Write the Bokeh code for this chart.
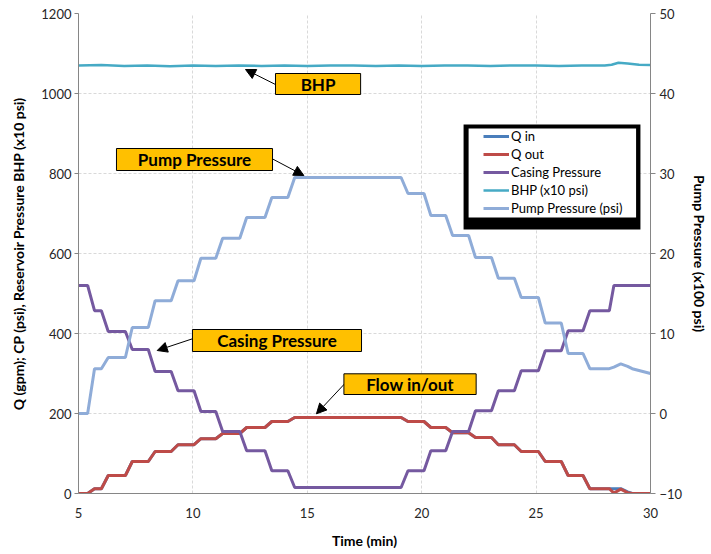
from bokeh.plotting import figure
from bokeh.models import (Range1d, LinearAxis, FixedTicker, Legend, LegendItem,
                          BoxAnnotation, Label, Arrow, NormalHead)
from bokeh.embed import file_html
from bokeh.resources import INLINE

# ---- data ----
time_min = [5.0, 5.4, 5.7, 6.0, 6.3, 7.05, 7.35, 8.05, 8.35, 9.05, 9.35, 10.05, 10.35,
            11.0, 11.3, 12.05, 12.35, 13.15, 13.45, 14.15, 14.45, 19.1, 19.4, 20.1,
            20.4, 21.05, 21.35, 22.05, 22.35, 23.05, 23.35, 24.05, 24.35, 25.1, 25.4,
            26.1, 26.4, 27.05, 27.35, 28.2, 28.4, 28.7, 29.0, 29.2, 30.0]

q_in = [0, 0, 12, 12, 45, 45, 80, 80, 105, 105, 122, 122, 137, 137, 150, 150, 165,
        165, 180, 180, 190, 190, 180, 180, 165, 165, 152, 152, 140, 140, 122, 122,
        105, 105, 80, 80, 45, 45, 12, 12, 12, 12, 4, 0, 0]

q_out = [0, 0, 12, 12, 45, 45, 80, 80, 105, 105, 122, 122, 137, 137, 150, 150, 165,
         165, 180, 180, 190, 190, 180, 180, 165, 165, 152, 152, 140, 140, 122, 122,
         105, 105, 80, 80, 45, 45, 12, 12, 1, 11, 2, 0, 0]

casing_pressure = [520, 520, 457, 457, 405, 405, 360, 360, 305, 305, 257, 257, 205,
                   205, 155, 155, 107, 107, 57, 57, 15, 15, 57, 57, 107, 107, 155,
                   155, 207, 207, 257, 257, 307, 307, 357, 357, 407, 407, 457, 457,
                   520, 520, 520, 520, 520]

pump_pressure = [0, 0, 5.6, 5.6, 7.0, 7.0, 10.75, 10.75, 14.1, 14.1, 16.6, 16.6,
                 19.4, 19.4, 21.9, 21.9, 24.5, 24.5, 27.0, 27.0, 29.5, 29.5, 27.5,
                 27.5, 24.75, 24.75, 22.25, 22.25, 19.5, 19.5, 16.9, 16.9, 14.5,
                 14.5, 11.3, 11.3, 7.5, 7.5, 5.6, 5.6, 5.8, 6.2, 5.9, 5.6, 5.0]

bhp_time = [5, 6, 7, 8, 9, 10, 11, 12, 13, 14, 15, 16, 17, 18, 19, 20, 21, 22, 23,
            24, 25, 26, 27, 28, 28.3, 28.6, 29.0, 29.5, 30]
bhp = [1070, 1071, 1069, 1070, 1068, 1070, 1069, 1070, 1069, 1070, 1069, 1070, 1070,
       1069, 1070, 1069, 1070, 1070, 1069, 1070, 1070, 1069, 1070, 1070, 1072, 1077,
       1075, 1072, 1071]

x_ticks = [5, 10, 15, 20, 25, 30]
left_ticks = [0, 200, 400, 600, 800, 1000, 1200]
right_ticks = [-10, 0, 10, 20, 30, 40, 50]

FONT = "Lato"
C_QIN = "#4A7EBB"
C_QOUT = "#BE4B48"
C_CP = "#7559A0"
C_BHP = "#46AAC5"
C_PUMP = "#8FACD8"

p = figure(width=711, height=554, x_range=Range1d(5, 30), y_range=Range1d(0, 1200),
           output_backend="svg", toolbar_location=None,
           min_border_left=78, min_border_right=61, min_border_top=13,
           min_border_bottom=61)
p.extra_y_ranges = {"pump": Range1d(-10, 50)}
p.outline_line_color = None
p.background_fill_color = "white"
p.border_fill_color = "white"

# axes
for ax in (p.xaxis[0], p.yaxis[0]):
    ax.axis_line_color = "#868686"
    ax.major_tick_line_color = "#868686"
    ax.minor_tick_line_color = None
    ax.major_label_text_font = FONT
    ax.major_label_text_font_size = "13px"
    ax.major_label_text_color = "#262626"
    ax.axis_label_text_font = FONT
    ax.axis_label_text_font_size = "14px"
    ax.axis_label_text_font_style = "bold"
    ax.axis_label_text_color = "black"

p.xaxis.ticker = FixedTicker(ticks=x_ticks)
p.xaxis.major_tick_out = 0
p.xaxis.major_tick_in = 0
p.xaxis.major_label_standoff = 14
p.xaxis.axis_label = "Time (min)"
p.xaxis.axis_label_standoff = 11

p.yaxis.ticker = FixedTicker(ticks=left_ticks)
p.yaxis.major_tick_out = 4
p.yaxis.major_tick_in = 0
p.yaxis.major_label_standoff = 3
p.yaxis.axis_label = "Q (gpm); CP (psi), Reservoir Pressure BHP (x10 psi)"
p.yaxis.axis_label_standoff = 11

right = LinearAxis(y_range_name="pump", ticker=FixedTicker(ticks=right_ticks),
                   axis_label="Pump Pressure (x100 psi)")
right.axis_line_color = "#868686"
right.major_tick_line_color = "#868686"
right.minor_tick_line_color = None
right.major_tick_out = 5
right.major_tick_in = 0
right.major_label_standoff = 4
right.major_label_text_font = FONT
right.major_label_text_font_size = "13px"
right.major_label_text_color = "#262626"
right.axis_label_text_font = FONT
right.axis_label_text_font_size = "14px"
right.axis_label_text_font_style = "bold"
right.axis_label_text_color = "black"
right.axis_label_standoff = 6
p.add_layout(right, "right")

# grids
p.xgrid.ticker = FixedTicker(ticks=[10, 15, 20, 25])
p.ygrid.ticker = FixedTicker(ticks=[200, 400, 600, 800, 1000])
for g in (p.xgrid[0], p.ygrid[0]):
    g.grid_line_color = "#D9D9D9"
    g.grid_line_dash = "3 2"
    g.grid_line_width = 1

# series
r_qin = p.line(time_min, q_in, line_color=C_QIN, line_width=3)
r_qout = p.line(time_min, q_out, line_color=C_QOUT, line_width=3)
r_cp = p.line(time_min, casing_pressure, line_color=C_CP, line_width=3)
r_bhp = p.line(bhp_time, bhp, line_color=C_BHP, line_width=2.5)
r_pump = p.line(time_min, pump_pressure, line_color=C_PUMP, line_width=3,
                y_range_name="pump")

# legend frame (thick black border, heavier at the bottom)
p.add_layout(BoxAnnotation(left=21.83, right=29.56, top=922.5, bottom=660,
                           fill_color="black", fill_alpha=1, line_color=None))
p.add_layout(BoxAnnotation(left=22.05, right=29.37, top=912.5, bottom=690,
                           fill_color="white", fill_alpha=1, line_color=None))

legend = Legend(items=[
    LegendItem(label="Q in", renderers=[r_qin]),
    LegendItem(label="Q out", renderers=[r_qout]),
    LegendItem(label="Casing Pressure", renderers=[r_cp]),
    LegendItem(label="BHP (x10 psi)", renderers=[r_bhp]),
    LegendItem(label="Pump Pressure (psi)", renderers=[r_pump]),
], location=(405, 277))
legend.background_fill_alpha = 0
legend.border_line_color = None
legend.padding = 0
legend.margin = 0
legend.spacing = 2
legend.glyph_width = 26
legend.glyph_height = 16
legend.label_height = 16
legend.label_standoff = 2
legend.label_text_font = FONT
legend.label_text_font_size = "13px"
legend.label_text_color = "black"
p.add_layout(legend)

# callout boxes with arrows
callouts = [
    # (text, left, right, top, bottom, tail_x, tail_y, tip_x, tip_y)
    ("BHP", 13.61, 17.33, 1050, 997.5, 13.61, 1022.5, 12.30, 1060),
    ("Pump Pressure", 6.66, 13.48, 862.5, 807.5, 13.47, 836.75, 14.85, 795),
    ("Casing Pressure", 9.98, 17.37, 410, 355, 9.98, 386.75, 8.44, 357.5),
    ("Flow in/out", 16.60, 22.38, 299.25, 247.5, 16.63, 274.25, 15.40, 199.25),
]
for text, l, r, t, b, tx, ty, hx, hy in callouts:
    p.add_layout(Arrow(x_start=tx, y_start=ty, x_end=hx, y_end=hy,
                       line_color="black", line_width=1,
                       end=NormalHead(size=10, fill_color="black",
                                      line_color="black")))
    p.add_layout(BoxAnnotation(left=l, right=r, top=t, bottom=b,
                               fill_color="#FFC000", fill_alpha=1,
                               line_color="black", line_alpha=1, line_width=1))
    p.add_layout(Label(x=(l + r) / 2, y=(t + b) / 2, text=text,
                       text_align="center", text_baseline="middle",
                       text_font=FONT, text_font_size="17px",
                       text_font_style="bold", text_color="black"))

open("out.html", "w").write(file_html(p, INLINE))
